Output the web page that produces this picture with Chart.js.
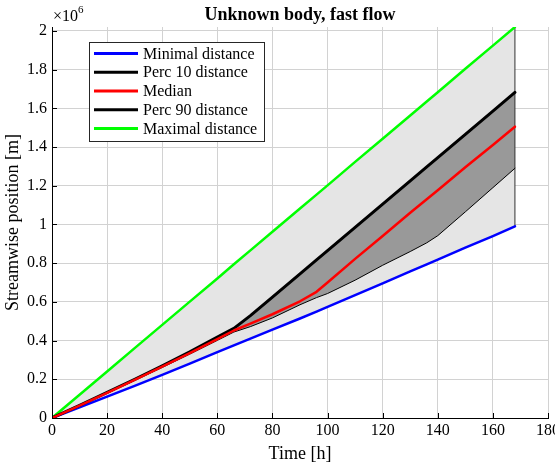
<!DOCTYPE html>
<html>
<head>
<meta charset="utf-8">
<script src="https://cdn.jsdelivr.net/npm/chart.js@4.4.0/dist/chart.umd.min.js"></script>
<style>
  html, body { margin: 0; padding: 0; background: #fff; }
  #wrap { width: 555px; height: 469px; }
</style>
</head>
<body>
<div id="wrap"><canvas id="chart" width="555" height="469"></canvas></div>
<script>
// time in hours, distances in units of 1e6 m
const hours   = [0, 10, 20, 30, 40, 50, 60, 66, 72, 80, 90, 96, 100, 110, 120, 130, 136, 140, 150, 160, 168];
const minDist = [0, 0.055, 0.110, 0.166, 0.223, 0.281, 0.340, 0.375, 0.410, 0.457, 0.514, 0.550, 0.574, 0.635, 0.696, 0.757, 0.794, 0.818, 0.880, 0.940, 0.990];
const p10Dist = [0, 0.063, 0.128, 0.194, 0.261, 0.330, 0.401, 0.444, 0.472, 0.517, 0.585, 0.622, 0.643, 0.712, 0.789, 0.860, 0.905, 0.942, 1.065, 1.190, 1.290];
const median  = [0, 0.064, 0.130, 0.197, 0.265, 0.335, 0.408, 0.452, 0.488, 0.536, 0.603, 0.652, 0.700, 0.822, 0.940, 1.060, 1.130, 1.177, 1.295, 1.410, 1.505];
const p90Dist = [0, 0.065, 0.132, 0.200, 0.270, 0.342, 0.418, 0.463, 0.529, 0.625, 0.745, 0.817, 0.865, 0.985, 1.105, 1.225, 1.297, 1.345, 1.465, 1.585, 1.682];
const maxDist = [0, 0.120, 0.240, 0.361, 0.481, 0.601, 0.721, 0.794, 0.866, 0.962, 1.082, 1.154, 1.202, 1.323, 1.443, 1.563, 1.635, 1.683, 1.804, 1.924, 2.020];
const xTicks = [0, 20, 40, 60, 80, 100, 120, 140, 160, 180];
const yTicks = [0, 0.2, 0.4, 0.6, 0.8, 1, 1.2, 1.4, 1.6, 1.8, 2];

const SERIF = '"Liberation Serif", "DejaVu Serif", serif';

function pts(ys) {
  return hours.map((h, i) => ({ x: h, y: ys[i] }));
}
const last = hours.length - 1;

// legend order as in the figure
const legendOrder = [3, 2, 0, 1, 4];

const overlay = {
  id: 'overlay',
  afterDraw(chart) {
    const ctx = chart.ctx;
    const area = chart.chartArea;
    const xs = chart.scales.x, ys = chart.scales.y;
    ctx.save();

    // inward tick marks
    ctx.strokeStyle = '#000';
    ctx.lineWidth = 1;
    ctx.beginPath();
    xTicks.forEach(t => {
      const px = Math.round(xs.getPixelForValue(t)) + 0.5;
      ctx.moveTo(px, area.bottom);
      ctx.lineTo(px, area.bottom - 5);
    });
    yTicks.forEach(t => {
      const py = Math.round(ys.getPixelForValue(t)) + 0.5;
      ctx.moveTo(area.left, py);
      ctx.lineTo(area.left + 5, py);
    });
    ctx.stroke();

    // title
    ctx.fillStyle = '#000';
    ctx.font = 'bold 18px ' + SERIF;
    ctx.textAlign = 'center';
    ctx.textBaseline = 'alphabetic';
    ctx.fillText('Unknown body, fast flow', (area.left + area.right) / 2, 20);

    // exponent
    ctx.textAlign = 'left';
    ctx.font = '16px ' + SERIF;
    ctx.fillText('\u00d710', 53, 21);
    const w = ctx.measureText('\u00d710').width;
    ctx.font = '11px ' + SERIF;
    ctx.fillText('6', 53 + w, 13);

    // legend
    const bx = 89.5, by = 42.5, bw = 175, bh = 99;
    ctx.fillStyle = '#fff';
    ctx.fillRect(bx, by, bw, bh);
    ctx.strokeStyle = '#262626';
    ctx.lineWidth = 1;
    ctx.strokeRect(bx, by, bw, bh);
    ctx.font = '16px ' + SERIF;
    ctx.textBaseline = 'middle';
    legendOrder.forEach((di, i) => {
      const ds = chart.data.datasets[di];
      const y = 53.5 + i * 18.75;
      ctx.strokeStyle = ds.borderColor;
      ctx.lineWidth = 3;
      ctx.beginPath();
      ctx.moveTo(94, y);
      ctx.lineTo(138, y);
      ctx.stroke();
      ctx.fillStyle = '#000';
      ctx.fillText(ds.label, 143, y + 1);
    });
    ctx.restore();
  }
};

const chart = new Chart(document.getElementById('chart'), {
  type: 'line',
  data: {
    datasets: [
      { label: 'Median', data: pts(median), borderColor: '#ff0000', borderWidth: 2.5, fill: false },
      { label: 'Perc 90 distance', data: pts(p90Dist), borderColor: '#000000', borderWidth: 3,
        fill: '+1', backgroundColor: '#999999' },
      { label: 'Perc 10 distance', data: pts(p10Dist), borderColor: '#000000', borderWidth: 1, fill: false },
      { label: 'Minimal distance', data: pts(minDist), borderColor: '#0000ff', borderWidth: 2.5, fill: false },
      { label: 'Maximal distance', data: pts(maxDist), borderColor: '#00ff00', borderWidth: 2.5,
        fill: '-1', backgroundColor: '#e5e5e5' },
      { label: 'edge', data: [{ x: hours[last], y: minDist[last] }, { x: hours[last], y: maxDist[last] }],
        borderColor: '#333333', borderWidth: 1, fill: false }
    ]
  },
  options: {
    responsive: false,
    animation: false,
    events: [],
    layout: { padding: { top: 27, right: 7, left: 0, bottom: 0 } },
    elements: { point: { radius: 0 }, line: { tension: 0, borderCapStyle: 'round', borderJoinStyle: 'round' } },
    plugins: {
      legend: { display: false },
      title: { display: false },
      tooltip: { enabled: false },
      filler: { drawTime: 'beforeDatasetsDraw' }
    },
    scales: {
      x: {
        type: 'linear',
        min: 0, max: 180,
        afterBuildTicks(s) { s.ticks = xTicks.map(v => ({ value: v })); },
        afterFit(s) { s.height = 51; s.paddingLeft = 0; s.paddingRight = 0; },
        ticks: { color: '#000', font: { family: SERIF, size: 16 }, padding: 3, maxRotation: 0 },
        grid: { color: '#d2d2d2', lineWidth: 1, drawTicks: false },
        border: { color: '#000', width: 1 },
        title: { display: true, text: 'Time [h]', color: '#000', font: { family: SERIF, size: 18 }, padding: { top: 5 } }
      },
      y: {
        type: 'linear',
        min: 0, max: 2.02,
        afterBuildTicks(s) { s.ticks = yTicks.map(v => ({ value: v })); },
        afterFit(s) { s.width = 52; s.paddingTop = 0; s.paddingBottom = 0; },
        ticks: { color: '#000', font: { family: SERIF, size: 16 }, padding: 5,
          callback: v => String(Number(v.toFixed(1))) },
        grid: { color: '#d2d2d2', lineWidth: 1, drawTicks: false },
        border: { color: '#000', width: 1 },
        title: { display: true, text: 'Streamwise position [m]', color: '#000', font: { family: SERIF, size: 18 }, padding: { top: 2, bottom: 0 } }
      }
    }
  },
  plugins: [overlay]
});
</script>
</body>
</html>
